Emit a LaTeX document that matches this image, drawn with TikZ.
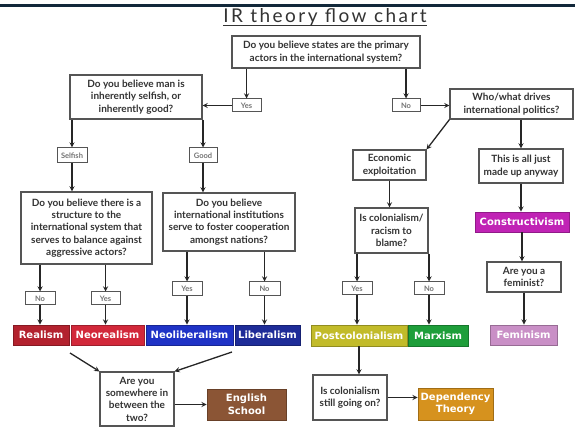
\documentclass[tikz,border=0pt]{standalone}
\usepackage{fontspec}
\setmainfont{Lato}
\newfontfamily\titlefont[LetterSpace=13]{Lato}
\newfontfamily\thfont{DejaVu Sans}
\definecolor{barnavy}{HTML}{12283A}
\definecolor{boxgray}{HTML}{555555}
\definecolor{textgray}{HTML}{333333}
\definecolor{realred}{HTML}{B3222E}
\definecolor{neored}{HTML}{D2283A}
\definecolor{neoblue}{HTML}{1F33C6}
\definecolor{libblue}{HTML}{1E2C98}
\definecolor{postyellow}{HTML}{C2BB2A}
\definecolor{marxgreen}{HTML}{1E9E3A}
\definecolor{conmagenta}{HTML}{C023B5}
\definecolor{femlilac}{HTML}{C98FC6}
\definecolor{engbrown}{HTML}{8B5535}
\definecolor{deporange}{HTML}{D6921E}
\begin{document}
\begin{tikzpicture}[x=1pt,y=-1pt,>=stealth,
  q/.style={draw=boxgray,line width=1.1pt,fill=white,align=center,inner sep=0pt,text=textgray,font=\bfseries\fontsize{10}{12.3}\selectfont},
  lab/.style={draw=boxgray,line width=1pt,fill=white,inner sep=0pt,text=black!55,font=\bfseries\fontsize{7.5}{8}\selectfont},
  th/.style={fill=#1,draw=#1!75!black,line width=0.8pt,inner sep=0pt,align=center,text=white,font=\thfont\bfseries\fontsize{10}{12.5}\selectfont},
  arr/.style={->,line width=1.3pt,draw=black!85}]
\useasboundingbox (0,0) rectangle (575,427);
% header bar and title
\fill[barnavy] (0,4) rectangle (575,7);
\node[anchor=base,inner sep=0pt,text=textgray,font=\titlefont\fontsize{19}{22}\selectfont] (title) at (325,22.5) {IR theory flow chart};
\draw[textgray,line width=0.9pt] ([yshift=-2.5pt]title.base west) -- ([yshift=-2.5pt]title.base east);
% questions
\node[q,minimum width=188,minimum height=32] (top) at (326,52) {Do you believe states are the primary\\actors in the international system?};
\node[q,minimum width=132,minimum height=44] (man) at (136,97) {Do you believe man is\\inherently selfish, or\\inherently good?};
\node[q,minimum width=123,minimum height=30] (who) at (511.5,104) {Who/what drives\\international politics?};
\node[q,minimum width=73,minimum height=30] (econ) at (389.5,165) {Economic\\exploitation};
\node[q,minimum width=84,minimum height=34] (made) at (521,166) {This is all just\\made up anyway};
\node[q,minimum width=131,minimum height=72] (struct) at (86.5,228) {Do you believe there is a\\structure to the\\international system that\\serves to balance against\\aggressive actors?};
\node[q,minimum width=132,minimum height=58] (inst) at (229,222) {Do you believe\\international institutions\\serve to foster cooperation\\amongst nations?};
\node[q,minimum width=73,minimum height=45] (colon) at (391.5,230.5) {Is colonialism/\\racism to\\blame?};
\node[q,minimum width=74,minimum height=30] (fem) at (524,277) {Are you a\\feminist?};
\node[q,minimum width=74,minimum height=54] (between) at (137,399) {Are you\\somewhere in\\between the\\two?};
\node[q,minimum width=74,minimum height=45] (still) at (350,397.5) {Is colonialism\\still going on?};
% answer labels
\node[lab,minimum width=29,minimum height=13] (yesA) at (246.5,105.5) {Yes};
\node[lab,minimum width=28,minimum height=13] (noA) at (406,105.5) {No};
\node[lab,minimum width=30,minimum height=15] (selfish) at (72,155.5) {Selfish};
\node[lab,minimum width=28,minimum height=15] (good) at (203,155.5) {Good};
\node[lab,minimum width=30,minimum height=13] (noB) at (40,298.5) {No};
\node[lab,minimum width=29,minimum height=13] (yesB) at (105.5,298.5) {Yes};
\node[lab,minimum width=30,minimum height=14] (yesC) at (187,289) {Yes};
\node[lab,minimum width=31,minimum height=14] (noC) at (264.5,289) {No};
\node[lab,minimum width=30,minimum height=13] (yesD) at (357,288.5) {Yes};
\node[lab,minimum width=30,minimum height=13] (noD) at (429,288.5) {No};
% theories
\node[th=realred,minimum width=56,minimum height=20] (realism) at (41,335) {Realism};
\node[th=neored,minimum width=73,minimum height=20] (neoreal) at (107.5,335) {Neorealism};
\node[th=neoblue,minimum width=87,minimum height=20] (neolib) at (189.5,335) {Neoliberalism};
\node[th=libblue,minimum width=65,minimum height=20] (lib) at (267.5,335) {Liberalism};
\node[th=postyellow,minimum width=96,minimum height=21] (postcol) at (359,335.5) {Postcolonialism};
\node[th=marxgreen,minimum width=60,minimum height=21] (marx) at (438,335.5) {Marxism};
\node[th=conmagenta,minimum width=94,minimum height=20] (constr) at (522,222) {Constructivism};
\node[th=femlilac,minimum width=67,minimum height=20] (feminism) at (523.5,335) {Feminism};
\node[th=engbrown,minimum width=79,minimum height=31] (english) at (246.5,404.5) {English\\School};
\node[th=deporange,minimum width=75,minimum height=32] (depend) at (455.5,404) {Dependency\\Theory};
\coordinate (lt) at (70,353);
\coordinate (rt) at (232,352);
% connectors
\draw[arr] (top.south -| yesA.north) -- (yesA.north);
\draw[arr] (top.south -| noA.north) -- (noA.north);
\draw[arr] (yesA.west) -- (yesA.west -| man.east);
\draw[arr] (noA.east) -- (noA.east -| who.west);
\draw[arr] (man.south -| selfish.north) -- (selfish.north);
\draw[arr] (man.south -| good.north) -- (good.north);
\draw[arr] (selfish.south) -- (selfish.south |- struct.north);
\draw[arr] (good.south) -- (good.south |- inst.north);
\draw[arr] (who.south west) -- (econ.north east);
\draw[arr] (who.south -| made.north) -- (made.north);
\draw[arr] (econ.south) -- (econ.south |- colon.north);
\draw[arr] (made.south) -- (made.south |- constr.north);
\draw[arr] (constr.south) -- (constr.south |- fem.north);
\draw[arr] (fem.south) -- (fem.south |- feminism.north);
\foreach \q/\a/\b in {struct/noB/realism,struct/yesB/neoreal,inst/yesC/neolib,inst/noC/lib,colon/yesD/postcol,colon/noD/marx}{
  \draw[arr] (\q.south -| \a.north) -- (\a.north);
  \draw[arr] (\a.south) -- (\a.south |- \b.north);}
\draw[arr] (postcol.south) -- (postcol.south |- still.north);
\draw[arr] (still.east) -- (still.east -| depend.west);
\draw[arr] (lt) -- (between.north west);
\draw[arr] (rt) -- (between.north east);
\draw[arr] (english.west -| between.east) -- (english.west);
\end{tikzpicture}
\end{document}
